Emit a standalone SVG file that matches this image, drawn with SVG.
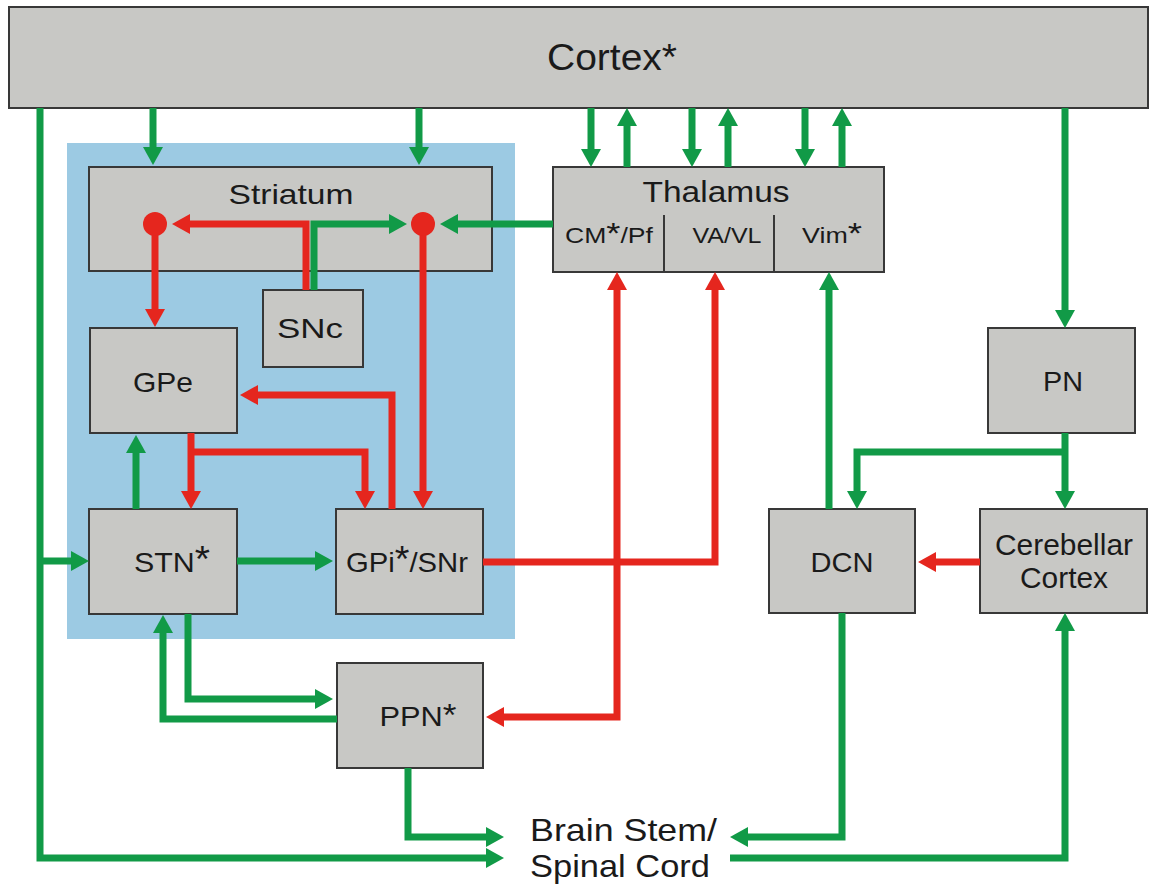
<svg xmlns="http://www.w3.org/2000/svg" width="1149" height="884" viewBox="0 0 1149 884">
<style>
.box{fill:#c8c8c5;stroke:#383838;stroke-width:2}
.t{font-family:"Liberation Sans",Arial,sans-serif;fill:#1a1a1a}
.g{fill:none;stroke:#119a47;stroke-width:7}
.r{fill:none;stroke:#e5261e;stroke-width:7}
.div{stroke:#383838;stroke-width:2}
</style>
<defs>
<marker id="ag" viewBox="0 0 18 20" markerWidth="18" markerHeight="20" markerUnits="userSpaceOnUse" refX="5" refY="10" orient="auto"><path d="M0,0 L18,10 L0,20 z" fill="#119a47"/></marker>
<marker id="ar" viewBox="0 0 18 20" markerWidth="18" markerHeight="20" markerUnits="userSpaceOnUse" refX="5" refY="10" orient="auto"><path d="M0,0 L18,10 L0,20 z" fill="#e5261e"/></marker>
</defs>
<rect width="1149" height="884" fill="#ffffff"/>
<rect id="basal-ganglia" x="67" y="143" width="448" height="496" fill="#9ccae3"/>

<g id="cortex"><rect class="box" x="9" y="7" width="1139" height="101"/>
<text class="t" x="612" y="70" font-size="37" text-anchor="middle" textLength="130" lengthAdjust="spacingAndGlyphs">Cortex*</text></g>

<g id="striatum"><rect class="box" x="89" y="167" width="403" height="104"/>
<text class="t" x="291" y="204" font-size="28" text-anchor="middle" textLength="125" lengthAdjust="spacingAndGlyphs">Striatum</text></g>

<g id="snc"><rect class="box" x="263" y="290" width="100" height="77"/>
<text class="t" x="310" y="338" font-size="28" text-anchor="middle" textLength="66" lengthAdjust="spacingAndGlyphs">SNc</text></g>

<g id="gpe"><rect class="box" x="90" y="328" width="147" height="105"/>
<text class="t" x="163" y="392" font-size="28" text-anchor="middle" textLength="60" lengthAdjust="spacingAndGlyphs">GPe</text></g>

<g id="stn"><rect class="box" x="89" y="509" width="148" height="105"/>
<text class="t" x="172" y="572" font-size="28" text-anchor="middle" textLength="76" lengthAdjust="spacingAndGlyphs">STN<tspan font-size="36">*</tspan></text></g>

<g id="gpi-snr"><rect class="box" x="336" y="509" width="147" height="105"/>
<text class="t" x="407" y="572" font-size="28" text-anchor="middle" textLength="122" lengthAdjust="spacingAndGlyphs">GPi<tspan font-size="36">*</tspan>/SNr</text></g>

<g id="thalamus"><rect class="box" x="553" y="167" width="331" height="105"/>
<line class="div" x1="664" y1="215" x2="664" y2="272"/>
<line class="div" x1="774" y1="215" x2="774" y2="272"/>
<text class="t" x="716" y="202" font-size="30" text-anchor="middle" textLength="147" lengthAdjust="spacingAndGlyphs">Thalamus</text>
<text class="t" x="609" y="243" font-size="22" text-anchor="middle" textLength="88" lengthAdjust="spacingAndGlyphs">CM<tspan font-size="30">*</tspan>/Pf</text>
<text class="t" x="727" y="243" font-size="22" text-anchor="middle" textLength="69" lengthAdjust="spacingAndGlyphs">VA/VL</text>
<text class="t" x="832" y="243" font-size="22" text-anchor="middle" textLength="60" lengthAdjust="spacingAndGlyphs">Vim<tspan font-size="30">*</tspan></text></g>

<g id="ppn"><rect class="box" x="337" y="663" width="146" height="105"/>
<text class="t" x="418" y="726" font-size="28" text-anchor="middle" textLength="77" lengthAdjust="spacingAndGlyphs">PPN<tspan font-size="32">*</tspan></text></g>

<g id="pn"><rect class="box" x="988" y="328" width="147" height="105"/>
<text class="t" x="1063" y="391" font-size="28" text-anchor="middle" textLength="40" lengthAdjust="spacingAndGlyphs">PN</text></g>

<g id="dcn"><rect class="box" x="769" y="509" width="146" height="104"/>
<text class="t" x="842" y="572" font-size="28" text-anchor="middle" textLength="63" lengthAdjust="spacingAndGlyphs">DCN</text></g>

<g id="cerebellar-cortex"><rect class="box" x="980" y="509" width="167" height="104"/>
<text class="t" x="1064" y="555" font-size="29" text-anchor="middle" textLength="138" lengthAdjust="spacingAndGlyphs">Cerebellar</text>
<text class="t" x="1064" y="588" font-size="29" text-anchor="middle" textLength="88" lengthAdjust="spacingAndGlyphs">Cortex</text></g>

<g id="brainstem">
<text class="t" x="530" y="841" font-size="32" textLength="187" lengthAdjust="spacingAndGlyphs">Brain Stem/</text>
<text class="t" x="530" y="877" font-size="32" textLength="180" lengthAdjust="spacingAndGlyphs">Spinal Cord</text></g>

<g id="connectors">
<path class="g" d="M153,108 V152" marker-end="url(#ag)"/>
<path class="g" d="M419,108 V152" marker-end="url(#ag)"/>
<path class="g" d="M591,108 V154" marker-end="url(#ag)"/>
<path class="g" d="M692,108 V154" marker-end="url(#ag)"/>
<path class="g" d="M805,108 V154" marker-end="url(#ag)"/>
<path class="g" d="M627,167 V121" marker-end="url(#ag)"/>
<path class="g" d="M728,167 V121" marker-end="url(#ag)"/>
<path class="g" d="M842,167 V121" marker-end="url(#ag)"/>
<path class="g" d="M1065,108 V315" marker-end="url(#ag)"/>
<path class="g" d="M40,108 V858 H491" marker-end="url(#ag)"/>
<path class="g" d="M40,561 H76" marker-end="url(#ag)"/>
<path class="g" d="M237,561 H320" marker-end="url(#ag)"/>
<path class="g" d="M136,509 V448" marker-end="url(#ag)"/>
<path class="g" d="M314,290 V224 H394" marker-end="url(#ag)"/>
<path class="g" d="M553,224 H453" marker-end="url(#ag)"/>
<path class="g" d="M188,614 V699 H320" marker-end="url(#ag)"/>
<path class="g" d="M337,719 H163 V628" marker-end="url(#ag)"/>
<path class="g" d="M408,768 V837 H491" marker-end="url(#ag)"/>
<path class="g" d="M829,509 V285" marker-end="url(#ag)"/>
<path class="g" d="M1065,433 V496" marker-end="url(#ag)"/>
<path class="g" d="M1065,452 H857 V496" marker-end="url(#ag)"/>
<path class="g" d="M842,613 V837 H743" marker-end="url(#ag)"/>
<path class="g" d="M730,858 H1065 V626" marker-end="url(#ag)"/>
<path class="r" d="M306,290 V224 H185" marker-end="url(#ar)"/>
<path class="r" d="M155,224 V314" marker-end="url(#ar)"/>
<path class="r" d="M423,224 V496" marker-end="url(#ar)"/>
<path class="r" d="M191,433 V496" marker-end="url(#ar)"/>
<path class="r" d="M191,452 H365 V496" marker-end="url(#ar)"/>
<path class="r" d="M392,509 V395 H253" marker-end="url(#ar)"/>
<path class="r" d="M483,562 H715 V285" marker-end="url(#ar)"/>
<path class="r" d="M617,562 V285" marker-end="url(#ar)"/>
<path class="r" d="M617,562 V717 H499" marker-end="url(#ar)"/>
<path class="r" d="M980,562 H931" marker-end="url(#ar)"/>
<circle cx="155" cy="224" r="12" fill="#e5261e"/>
<circle cx="423" cy="224" r="12" fill="#e5261e"/>
</g>
</svg>
